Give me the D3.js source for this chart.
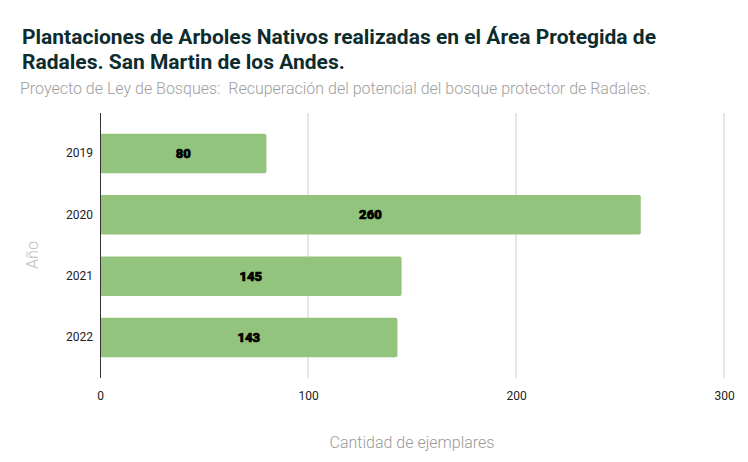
<!DOCTYPE html>
<html>
<head>
<meta charset="utf-8">
<script src="https://cdn.jsdelivr.net/npm/d3@7"></script>
<style>
  body { margin: 0; background: #fff; }
  svg { font-family: Roboto, Arial, sans-serif; }
  text { white-space: pre; }
</style>
</head>
<body>
<svg width="748" height="462"></svg>
<script>
// data
var years = ['2019', '2020', '2021', '2022'];
var values = [80, 260, 145, 143];
var xTicks = [0, 100, 200, 300];

var svg = d3.select('svg');
var padding = {t: 113, r: 24, b: 84, l: 100};
var plotW = 724 - padding.l;
var plotH = 378 - padding.t;

//titles
svg.append('text')
    .attr('x', 22).attr('y', 44)
    .attr('font-size', 21).attr('font-weight', 'bold')
    .attr('fill', '#0d2c2e')
    .text('Plantaciones de Arboles Nativos realizadas en el Área Protegida de');
svg.append('text')
    .attr('x', 22).attr('y', 69)
    .attr('font-size', 21).attr('font-weight', 'bold')
    .attr('fill', '#0d2c2e')
    .text('Radales. San Martin de los Andes.');
svg.append('text')
    .attr('x', 20).attr('y', 94)
    .attr('font-size', 16).attr('font-weight', 300)
    .attr('fill', '#9e9e9e')
    .text('Proyecto de Ley de Bosques:  Recuperación del potencial del bosque protector de Radales.');

var chartG = svg.append('g')
    .attr('transform', 'translate(' + [padding.l, padding.t] + ')');

//scales
var xScale = d3.scaleLinear().domain([0, 300]).range([0, plotW]);
var yScale = d3.scaleBand().domain(years).range([0, plotH])
    .paddingInner(0.355).paddingOuter(0.34);

//gridlines
chartG.selectAll('.grid')
    .data(xTicks.slice(1))
    .enter().append('line')
    .attr('class', 'grid')
    .attr('x1', function(d) { return xScale(d); })
    .attr('x2', function(d) { return xScale(d); })
    .attr('y1', 0).attr('y2', plotH)
    .attr('stroke', '#cccccc').attr('stroke-width', 1);

//bars
chartG.selectAll('.bar')
    .data(values)
    .enter().append('rect')
    .attr('class', 'bar')
    .attr('x', 0)
    .attr('y', function(d, i) { return yScale(years[i]); })
    .attr('width', function(d) { return xScale(d); })
    .attr('height', yScale.bandwidth())
    .attr('rx', 2)
    .attr('fill', '#93c47d');

//value labels
chartG.selectAll('.lbl')
    .data(values)
    .enter().append('text')
    .attr('class', 'lbl')
    .attr('x', function(d) { return xScale(d) / 2; })
    .attr('y', function(d, i) { return yScale(years[i]) + yScale.bandwidth() / 2; })
    .attr('dy', '0.35em')
    .attr('text-anchor', 'middle')
    .attr('font-size', 13).attr('font-weight', 900)
    .attr('fill', '#000')
    .attr('stroke', '#000').attr('stroke-width', 0.7)
    .text(function(d) { return d; });

//zero line
chartG.append('line')
    .attr('x1', 0.5).attr('x2', 0.5)
    .attr('y1', 0).attr('y2', plotH)
    .attr('stroke', '#333').attr('stroke-width', 1);

//x axis labels
var xAxis = chartG.append('g')
    .attr('transform', 'translate(' + [0, plotH] + ')')
    .call(d3.axisBottom(xScale).tickValues(xTicks).tickSize(0).tickPadding(13));
xAxis.select('.domain').remove();
xAxis.selectAll('text').attr('font-size', 12).attr('fill', '#222')
    .attr('font-family', 'Roboto, Arial, sans-serif');

//y axis labels
var yAxis = chartG.append('g')
    .call(d3.axisLeft(yScale).tickSize(0).tickPadding(7));
yAxis.select('.domain').remove();
yAxis.selectAll('text').attr('font-size', 12).attr('fill', '#222')
    .attr('font-family', 'Roboto, Arial, sans-serif');

//axis titles
svg.append('text')
    .attr('x', padding.l + plotW / 2).attr('y', 448)
    .attr('text-anchor', 'middle')
    .attr('font-size', 16).attr('font-weight', 300).attr('fill', '#9a9a9a')
    .text('Cantidad de ejemplares');
svg.append('text')
    .attr('transform', 'translate(' + [38, 255] + ')rotate(-90)')
    .attr('text-anchor', 'middle')
    .attr('font-size', 16).attr('font-weight', 300).attr('fill', '#bdbdbd')
    .text('Año');
</script>
</body>
</html>
